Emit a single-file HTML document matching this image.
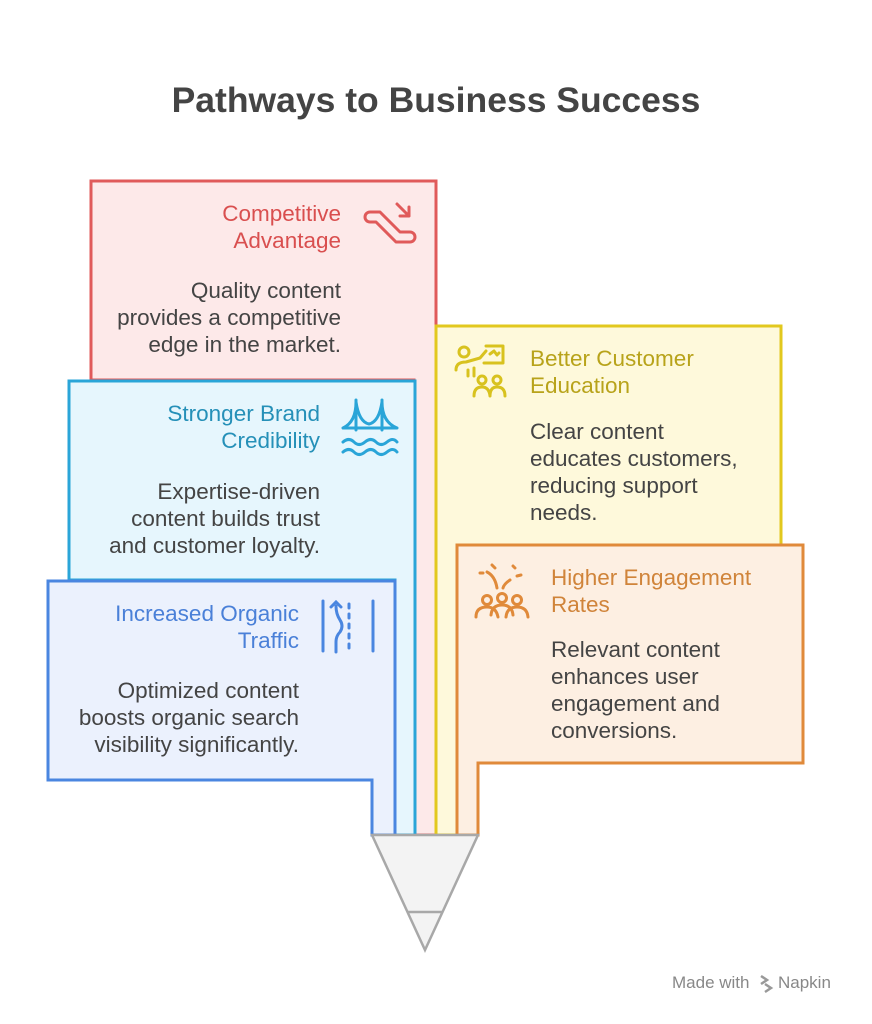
<!DOCTYPE html>
<html><head><meta charset="utf-8"><style>
html,body{margin:0;padding:0;background:#fff;}
svg{display:block;}
text{font-family:"Liberation Sans",sans-serif;}
</style></head><body>
<svg width="872" height="1024" viewBox="0 0 872 1024" xmlns="http://www.w3.org/2000/svg">
<text x="436" y="112" text-anchor="middle" font-size="35.5" font-weight="bold" fill="#444">Pathways to Business Success</text>

<polygon points="91,181 436,181 436,835 414,835 414,380 91,380" fill="#fde9e9" stroke="#e05a5a" stroke-width="3"/>
<polygon points="436,326 781,326 781,545 457,545 457,835 436,835" fill="#fef9db" stroke="#e2c81e" stroke-width="3"/>
<polygon points="69,381 415,381 415,835 395,835 395,580 69,580" fill="#e6f6fd" stroke="#2aa5d8" stroke-width="3"/>
<polygon points="457,545 803,545 803,763 478,763 478,835 457,835" fill="#fdefe2" stroke="#e08a3a" stroke-width="3"/>
<polygon points="48,581 395,581 395,835 372,835 372,780 48,780" fill="#ebf1fd" stroke="#4a86e0" stroke-width="3"/>

<polygon points="372,835 478,835 425,950" fill="#f3f3f3" stroke="#a8a8a8" stroke-width="2.5"/>
<line x1="408" y1="912" x2="443" y2="912" stroke="#a8a8a8" stroke-width="2.5"/>

<g font-size="22.5">
<text x="341" y="221" text-anchor="end" fill="#d94f4f">Competitive</text>
<text x="341" y="248" text-anchor="end" fill="#d94f4f">Advantage</text>
<text x="341" y="298" text-anchor="end" fill="#444">Quality content</text>
<text x="341" y="325" text-anchor="end" fill="#444">provides a competitive</text>
<text x="341" y="352" text-anchor="end" fill="#444">edge in the market.</text>

<text x="320" y="421" text-anchor="end" fill="#2590b8">Stronger Brand</text>
<text x="320" y="448" text-anchor="end" fill="#2590b8">Credibility</text>
<text x="320" y="499" text-anchor="end" fill="#444">Expertise-driven</text>
<text x="320" y="526" text-anchor="end" fill="#444">content builds trust</text>
<text x="320" y="553" text-anchor="end" fill="#444">and customer loyalty.</text>

<text x="299" y="621" text-anchor="end" fill="#4a80d8">Increased Organic</text>
<text x="299" y="648" text-anchor="end" fill="#4a80d8">Traffic</text>
<text x="299" y="698" text-anchor="end" fill="#444">Optimized content</text>
<text x="299" y="725" text-anchor="end" fill="#444">boosts organic search</text>
<text x="299" y="752" text-anchor="end" fill="#444">visibility significantly.</text>

<text x="530" y="366" fill="#b8a31a">Better Customer</text>
<text x="530" y="393" fill="#b8a31a">Education</text>
<text x="530" y="439" fill="#444">Clear content</text>
<text x="530" y="466" fill="#444">educates customers,</text>
<text x="530" y="493" fill="#444">reducing support</text>
<text x="530" y="520" fill="#444">needs.</text>

<text x="551" y="585" fill="#d0843a">Higher Engagement</text>
<text x="551" y="612" fill="#d0843a">Rates</text>
<text x="551" y="657" fill="#444">Relevant content</text>
<text x="551" y="684" fill="#444">enhances user</text>
<text x="551" y="711" fill="#444">engagement and</text>
<text x="551" y="738" fill="#444">conversions.</text>
</g>

<g fill="none" stroke="#e05a5a" stroke-width="3" stroke-linecap="round" stroke-linejoin="round">
<path d="M372,212 h8 l20,20 h10 a5,5 0 0 1 0,10 h-14 l-20,-20 h-6 a5,5 0 0 1 0,-10 z"/>
<path d="M397,204 l12,12 M409,207 v9 h-9"/>
</g>
<g fill="none" stroke="#2aa5d8" stroke-width="3" stroke-linecap="round">
<path d="M356,400 v30 M382,400 v30 M343,428 h54 M343,428 q13,-6 13,-26 q3,20 13,22 q10,-2 13,-22 q0,20 15,26"/>
<path d="M343,442 q6,-5 11,0 t11,0 t11,0 t11,0 t10,0"/>
<path d="M343,452 q6,-5 11,0 t11,0 t11,0 t11,0 t10,0"/>
</g>
<g fill="none" stroke="#4a86e0" stroke-width="3" stroke-linecap="round">
<path d="M323,601 v50 M373,601 v50"/>
<path d="M349,604 v4 M349,614 v4 M349,624 v4 M349,634 v4 M349,644 v4"/>
<path d="M336,652 v-10 q0,-6 4,-10 q4,-6 0,-12 q-4,-6 -4,-14 M331,607 l5,-5 l5,5"/>
</g>
<g fill="none" stroke="#d8c21e" stroke-width="3" stroke-linecap="round" stroke-linejoin="round">
<circle cx="464" cy="352" r="5"/>
<path d="M456,370 q0,-8 10,-8 l14,-4 l6,-7 M468,370 v6 M474,368 v8"/>
<path d="M486,346 h17 v17 h-19 M490,354 l4,-3 l3,4 l2,-2"/>
<circle cx="482" cy="380" r="4"/><circle cx="497" cy="380" r="4"/>
<path d="M474,396 q0,-9 8,-9 q7,0 8,9 M490,396 q0,-9 7,-9 q8,0 8,9"/>
</g>
<g fill="none" stroke="#e08a3a" stroke-width="3" stroke-linecap="round" stroke-linejoin="round">
<circle cx="487" cy="600" r="4.5"/><circle cx="502" cy="598" r="4.5"/><circle cx="517" cy="600" r="4.5"/>
<path d="M476,617 q0,-10 11,-10 q9,0 11,10 M491,615 q1,-10 11,-10 q10,0 11,10 M506,617 q1,-10 11,-10 q10,0 11,10"/>
<path d="M487,572 q8,4 10,16 M510,580 q-6,4 -7,8 M480,573 l3,0 M517,576 l4,-1 M492,565 l3,3 M513,566 l2,2"/>
</g>

<text x="672" y="988" font-size="17" fill="#888">Made with</text>
<path d="M761,976 l6,4 -6,4 M765,984 l6,4 -6,4" stroke="#999" stroke-width="2.5" fill="none"/>
<text x="778" y="988" font-size="17" fill="#888">Napkin</text>
</svg>
</body></html>
